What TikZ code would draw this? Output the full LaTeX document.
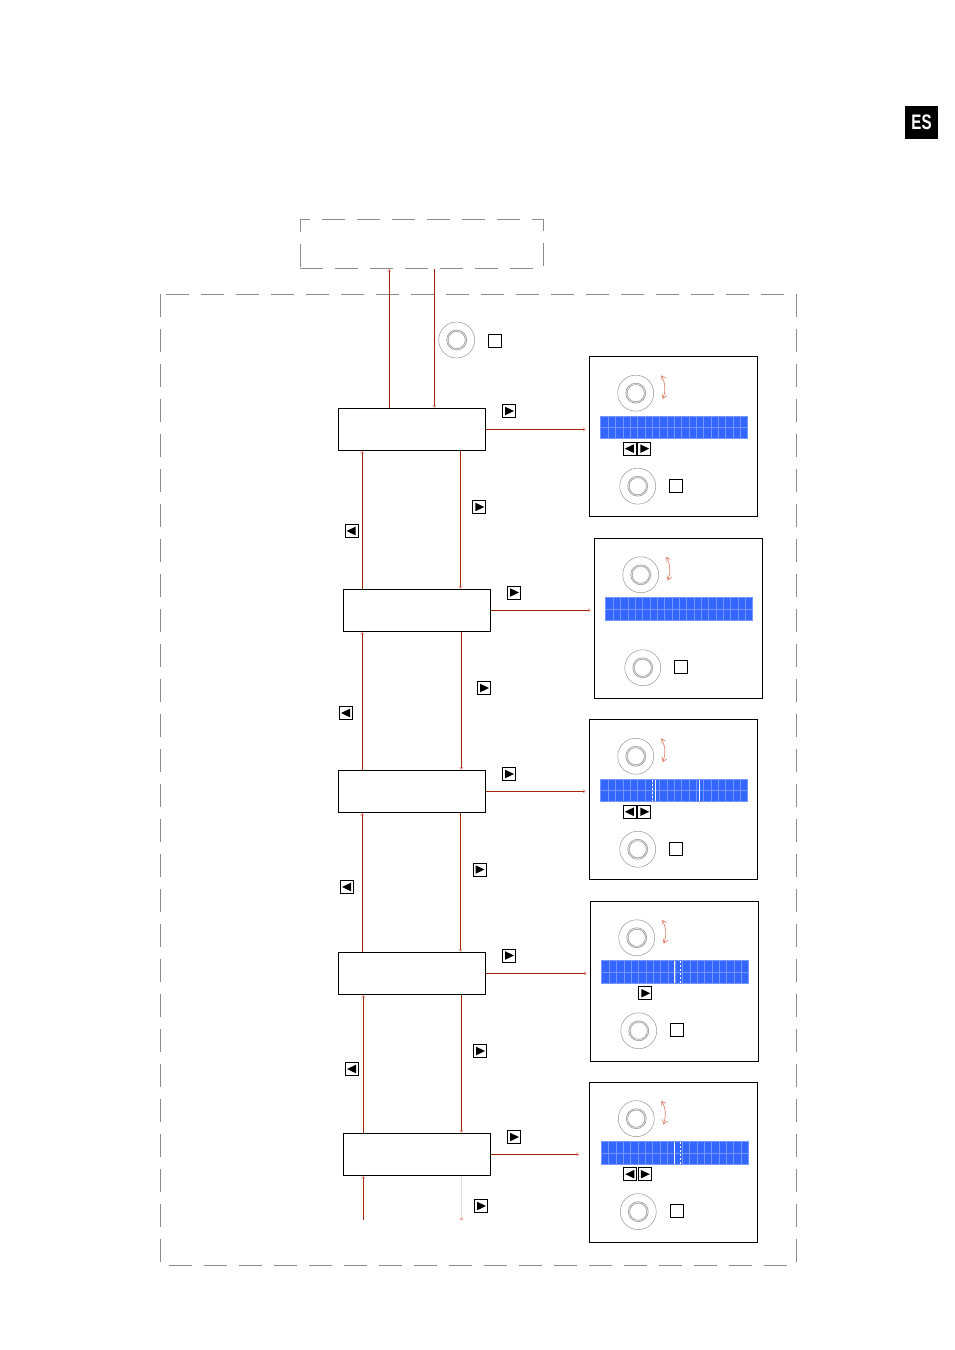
\documentclass[tikz,border=0pt]{standalone}
\usepackage{fontspec}
\usetikzlibrary{arrows.meta,calc}
\definecolor{conn}{RGB}{165,40,10}
\definecolor{pale}{RGB}{235,160,150}
\definecolor{arrowpale}{RGB}{225,130,110}
\definecolor{paleline}{RGB}{235,215,212}
\definecolor{lcdblue}{RGB}{51,102,255}
\definecolor{lcdgrid}{RGB}{115,150,255}
\definecolor{dashgray}{RGB}{140,140,140}
\definecolor{knobgray}{RGB}{150,150,150}
\newfontfamily\esfont{Liberation Sans}
\tikzset{
  knob/.pic={
    \draw[knobgray,line width=0.5] (0,0) circle (18pt);
    \draw[knobgray,line width=0.6] (0,0) circle (10pt) (0,0) circle (8.6pt);
  },
  sqbtn/.pic={\draw[line width=1] (-6.5,-6.5) rectangle (6.5,6.5);},
  rbtn/.pic={
    \draw[line width=1,fill=white] (-6.5,-6.5) rectangle (6.5,6.5);
    \fill (-4,-4.3) -- (-4,4.3) -- (5,0) -- cycle;
  },
  lbtn/.pic={
    \draw[line width=1,fill=white] (-6.5,-6.5) rectangle (6.5,6.5);
    \fill (4,-4.3) -- (4,4.3) -- (-5,0) -- cycle;
  },
  lcd/.pic={
    \fill[lcdblue] (0,0) rectangle (147,22.5);
    \foreach \i in {1,...,19} \draw[lcdgrid,line width=0.6] (\i*7.35,0) -- (\i*7.35,22.5);
    \draw[lcdgrid,line width=0.6] (0,11.25) -- (147,11.25);
    \draw[lcdgrid,line width=0.8] (0,0) rectangle (147,22.5);
  },
  updown/.pic={
    \draw[arrowpale,line width=0.7,{Straight Barb[length=4pt,width=5pt]}-{Straight Barb[length=4pt,width=5pt]}]
      (0,0) .. controls (5,8) and (5,16) .. (2,24);
  }
}
\newcommand\panelbase{%
  \pic at (47,37) {knob};
  \pic at (72,19) {updown};
  \pic at (12,60) {lcd};
  \pic at (49,130) {knob};
  \pic at (87.5,129.5) {sqbtn};
}
\begin{document}
\begin{tikzpicture}[x=1pt,y=-1pt,
  dashbox/.style={draw=dashgray,line width=1,dash pattern=on 23pt off 12pt},
  state/.style={draw,line width=1.1,minimum width=147pt,minimum height=42pt,inner sep=0pt},
  panel/.style={draw,line width=1.1,minimum width=168pt,minimum height=160pt,inner sep=0pt},
  cn/.style={draw=conn,line width=0.9},
  tipd/.style={-{To[color=pale,length=3pt,width=4pt]}},
]
\useasboundingbox (0,0) rectangle (954,1350);

% ES badge
\node[fill=black,minimum width=33pt,minimum height=33pt,inner sep=0pt,text=white,
  font=\esfont\bfseries\fontsize{21}{21}\selectfont] (es) at (921.5,122.5) {\scalebox{0.72}[1]{ES}};

% dashed frames
\node[dashbox,minimum width=243pt,minimum height=49pt,inner sep=0pt] (top) at (421.8,243.8) {};
\draw[dashbox] (160.3,294.3) rectangle (796.3,1265.3);

% state boxes
\node[state] (b1) at (411.8,429.3) {};
\node[state] (b2) at (416.8,610.3) {};
\node[state] (b3) at (411.8,791.3) {};
\node[state] (b4) at (411.8,973.3) {};
\node[state] (b5) at (416.8,1154.3) {};

% panels
\node[panel] (p1) at (673.3,436.7) {};
\node[panel] (p2) at (678.3,618.3) {};
\node[panel] (p3) at (673.3,799.8) {};
\node[panel] (p4) at (674.3,981.3) {};
\node[panel] (p5) at (673.8,1162.2) {};

% top knob + square
\pic at (456.7,340) {knob};
\pic at (495,341.3) {sqbtn};

% connectors from the top box
\coordinate (xa) at (389.3,0);
\coordinate (xb) at (434.3,0);
\draw[cn,tipd] (b1.north -| xa) -- (top.south -| xa);
\draw[cn,tipd] (top.south -| xb) -- (b1.north -| xb);

% vertical connectors
\coordinate (la) at (362.3,0);
\coordinate (ra) at (460.5,0);
\coordinate (lb) at (363.3,0);
\coordinate (rb) at (461.3,0);
\draw[cn,tipd] (b2.north -| la) -- (b1.south -| la);
\draw[cn,tipd] (b1.south -| ra) -- (b2.north -| ra);
\draw[cn,tipd] (b3.north -| la) -- (b2.south -| la);
\draw[cn,tipd] (b2.south -| rb) -- (b3.north -| rb);
\draw[cn,tipd] (b4.north -| la) -- (b3.south -| la);
\draw[cn,tipd] (b3.south -| ra) -- (b4.north -| ra);
\draw[cn,tipd] (b5.north -| lb) -- (b4.south -| lb);
\draw[cn,tipd] (b4.south -| rb) -- (b5.north -| rb);
\coordinate (e1) at (363.3,1219.5);
\coordinate (e2) at (461.3,1220.5);
\draw[cn,tipd] (e1) -- (b5.south -| e1);
\draw[draw=paleline,line width=0.9,tipd] (b5.south -| e2) -- (e2);

% horizontal connectors to panels
\draw[cn,tipd] (b1.east) -- ($(b1.east -| p1.west)+(-3,0)$);
\draw[cn,tipd] (b2.east) -- ($(b2.east -| p2.west)+(-3,0)$);
\draw[cn,tipd] (b3.east) -- ($(b3.east -| p3.west)+(-3,0)$);
\draw[cn,tipd] (b4.east) -- ($(b4.east -| p4.west)+(-3,0)$);
\draw[cn,tipd] (b5.east) -- ($(b5.east -| p5.west)+(-10,0)$);

% button icons along connectors
\pic at (351.5,531) {lbtn};
\pic at (346,713) {lbtn};
\pic at (347,887) {lbtn};
\pic at (352,1069) {lbtn};
\pic at (479.3,507) {rbtn};
\pic at (484,688) {rbtn};
\pic at (479.5,869.5) {rbtn};
\pic at (480,1051) {rbtn};
\pic at (481,1206) {rbtn};
\pic at (509,411) {rbtn};
\pic at (514,592.5) {rbtn};
\pic at (509,774) {rbtn};
\pic at (509,955.5) {rbtn};
\pic at (514,1137) {rbtn};

% panel contents
\begin{scope}[shift={(p1.north west)}]
  \panelbase
  \pic at (41,92.5) {lbtn};
  \pic at (55.5,92.5) {rbtn};
\end{scope}
\begin{scope}[shift={(p2.north west)}]
  \panelbase
\end{scope}
\begin{scope}[shift={(p3.north west)}]
  \panelbase
  \draw[white,line width=1.2] (67,60.5) -- (67,82);
  \draw[white,line width=1,dash pattern=on 2pt off 2pt] (64,60.5) -- (64,82);
  \draw[white,line width=1.2] (111,60.5) -- (111,82);
  \pic at (41,92.5) {lbtn};
  \pic at (55.5,92.5) {rbtn};
\end{scope}
\begin{scope}[shift={(p4.north west)}]
  \panelbase
  \draw[white,line width=1.2] (85,60.5) -- (85,82);
  \draw[white,line width=1,dash pattern=on 2pt off 2pt] (91,60.5) -- (91,82);
  \pic at (55.5,92.5) {rbtn};
\end{scope}
\begin{scope}[shift={(p5.north west)}]
  \panelbase
  \draw[white,line width=1.2] (85,60.5) -- (85,82);
  \draw[white,line width=1,dash pattern=on 2pt off 2pt] (91,60.5) -- (91,82);
  \pic at (41,92.5) {lbtn};
  \pic at (55.5,92.5) {rbtn};
\end{scope}
\end{tikzpicture}
\end{document}
